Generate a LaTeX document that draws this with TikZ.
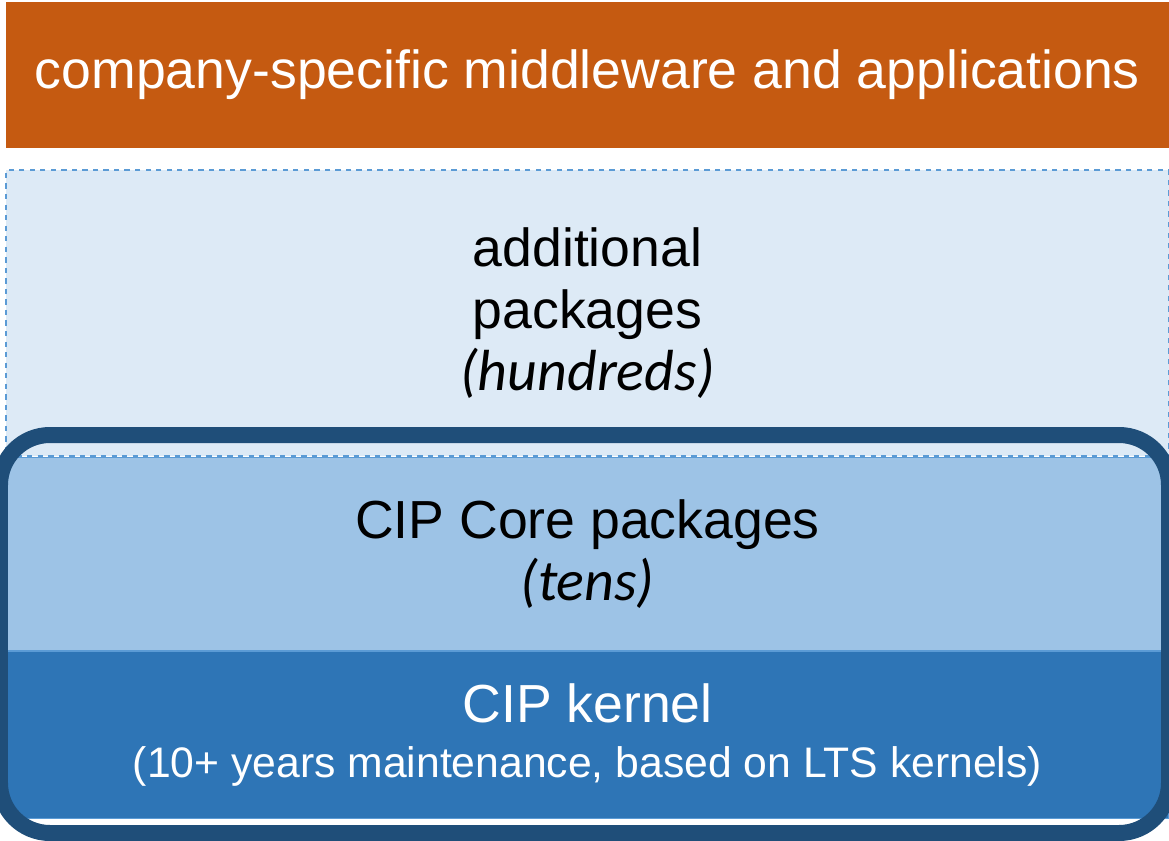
\documentclass[tikz,border=0pt]{standalone}
\usepackage{fontspec}
\setmainfont{Liberation Sans}
\newfontfamily\calfont{Carlito}
\usetikzlibrary{positioning}
\definecolor{rust}{HTML}{C55A11}
\definecolor{paleblue}{HTML}{DDEAF6}
\definecolor{lineblue}{HTML}{5B9BD5}
\definecolor{coreblue}{HTML}{9DC3E6}
\definecolor{kernblue}{HTML}{2E75B6}
\definecolor{navy}{HTML}{1F4E79}
\tikzset{
    layer/.style =  {rectangle,
                    inner sep=0pt,
                    align=center,
                    minimum width=23.26cm,
                    font=\fontsize{30.5}{35.5}\selectfont},
    topbox/.style = {layer,
                    fill=rust,
                    text=white,
                    minimum height=2.92cm},
    extra/.style =  {layer,
                    fill=paleblue,
                    draw=lineblue,
                    dashed,
                    line width=0.8pt,
                    text=black,
                    minimum height=5.72cm},
    corebox/.style = {layer,
                    fill=coreblue,
                    draw=lineblue,
                    line width=0.8pt,
                    text=black,
                    minimum height=3.86cm},
    kernbox/.style = {layer,
                    fill=kernblue,
                    draw=lineblue,
                    line width=0.8pt,
                    text=white,
                    minimum height=3.34cm},
    frame/.style =  {draw=navy,
                    line width=0.32cm,
                    rounded corners=1cm}}
\newcommand{\aside}[1]{{\calfont\itshape\fontsize{33}{35.5}\selectfont #1}}
\begin{document}
\begin{tikzpicture}[x=0.02cm,y=-0.02cm,node distance=0.42cm]
    \useasboundingbox (0,0) rectangle (1169,841);
    \node[topbox]   (company) at (587.5,75)        {company-specific middleware and applications};
    \node[extra]    (add)   [below=of company]    {additional\\packages\\\aside{(hundreds)}};
    \node[corebox]  (core)  [below=0pt of add]    {CIP Core packages\\\aside{(tens)}};
    \node[kernbox]  (kernel) [below=0pt of core]  {CIP kernel\\[-4pt]{\fontsize{24.3}{29}\selectfont (10+ years maintenance, based on LTS kernels)}};

    \draw[frame] (0,435) rectangle (1169,833);
\end{tikzpicture}
\end{document}
